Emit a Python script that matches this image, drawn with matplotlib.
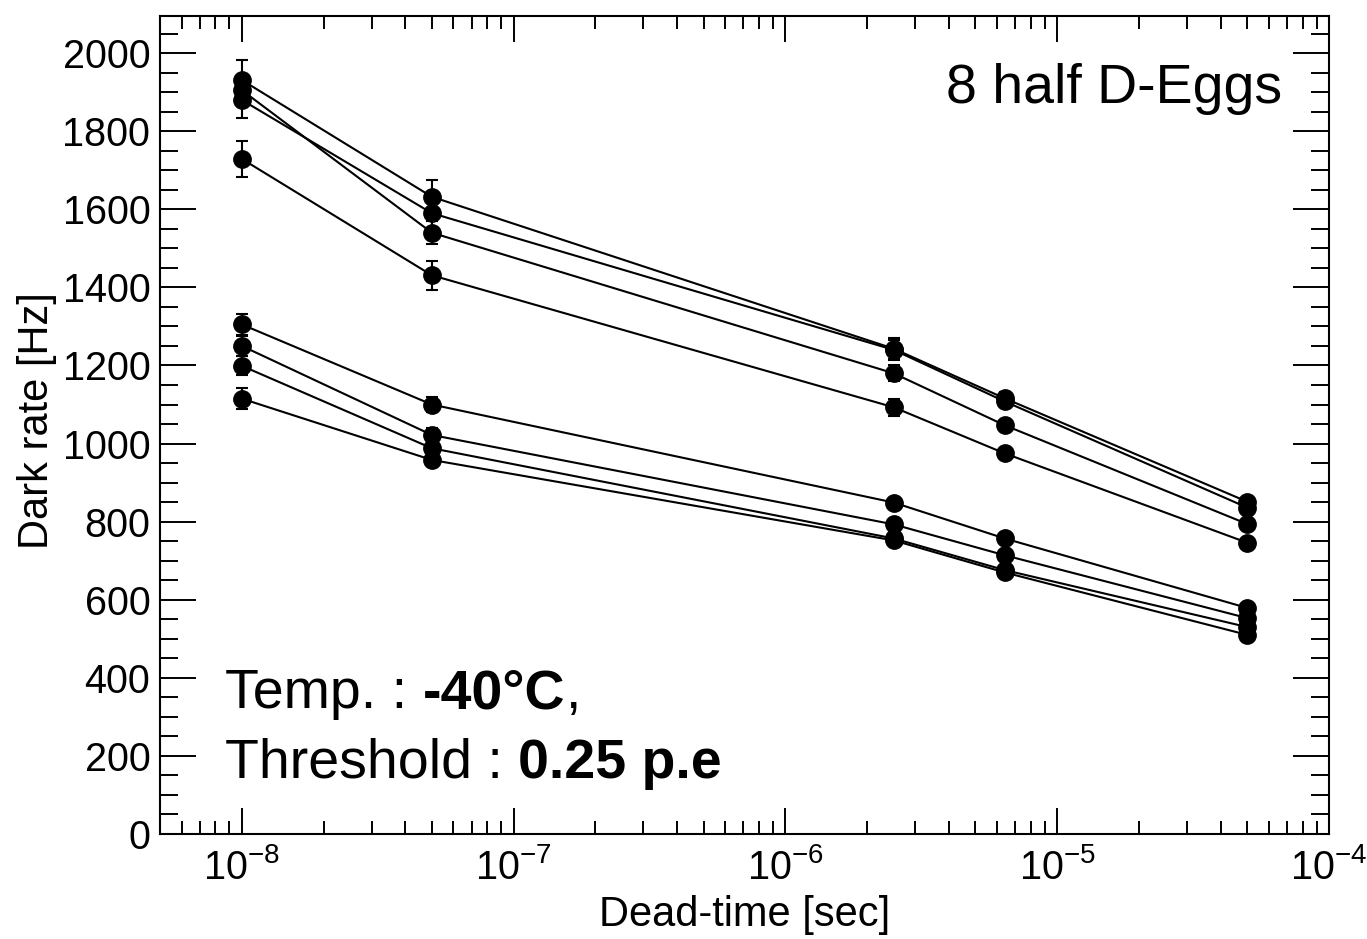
import matplotlib
matplotlib.use("Agg")
import matplotlib.pyplot as plt
from matplotlib.ticker import MultipleLocator, LogLocator, LogFormatterSciNotation, NullFormatter

plt.rcParams['font.family'] = ['Liberation Sans', 'DejaVu Sans']
plt.rcParams['mathtext.fontset'] = 'custom'
plt.rcParams['mathtext.rm'] = 'Liberation Sans'
plt.rcParams['mathtext.it'] = 'Liberation Sans:italic'
plt.rcParams['mathtext.bf'] = 'Liberation Sans:bold'

# dead-time settings [sec]
dead_time = [1e-8, 5e-8, 2.5e-6, 6.4e-6, 5e-5]

# dark rate [Hz] per half D-Egg
rate_a = [1931, 1632, 1243, 1116, 851]
rate_b = [1905, 1540, 1180, 1047, 794]
rate_c = [1880, 1590, 1240, 1108, 836]
rate_d = [1729, 1431, 1093, 975, 746]
rate_e = [1305, 1100, 849, 757, 579]
rate_f = [1250, 1022, 793, 714, 553]
rate_g = [1199, 988, 757, 676, 530]
rate_h = [1115, 958, 752, 670, 510]

err_a = [52, 43, 27, 15, 10]
err_b = [35, 30, 20, 14, 10]
err_c = [45, 38, 25, 14, 10]
err_d = [47, 37, 22, 14, 10]
err_e = [26, 18, 12, 10, 8]
err_f = [25, 18, 12, 10, 8]
err_g = [24, 17, 12, 10, 8]
err_h = [27, 15, 11, 10, 8]

rates = [rate_a, rate_b, rate_c, rate_d, rate_e, rate_f, rate_g, rate_h]
errs = [err_a, err_b, err_c, err_d, err_e, err_f, err_g, err_h]

fig = plt.figure(figsize=(13.67, 9.39), dpi=100)
ax = fig.add_axes([0.11704, 0.11182, 0.8552, 0.87114])

for r, e in zip(rates, errs):
    ax.errorbar(dead_time, r, yerr=e, fmt='-o', color='black', lw=1.5,
                ms=12.5, elinewidth=1.5, capsize=4, capthick=1.5)

ax.set_xscale('log')
ax.set_xlim(5e-9, 1e-4)
ax.set_ylim(0, 2095)

ax.xaxis.set_major_locator(LogLocator(base=10, numticks=10))
ax.xaxis.set_minor_locator(LogLocator(base=10, subs=range(2, 10), numticks=20))
ax.xaxis.set_major_formatter(LogFormatterSciNotation())
ax.xaxis.set_minor_formatter(NullFormatter())
ax.yaxis.set_major_locator(MultipleLocator(200))
ax.yaxis.set_minor_locator(MultipleLocator(50))

ax.tick_params(which='both', direction='in', top=True, right=True, width=1.4)
ax.xaxis.set_tick_params(which='major', length=19, pad=10, labelsize=28.5)
ax.xaxis.set_tick_params(which='minor', length=9.5)
ax.yaxis.set_tick_params(which='major', length=26, pad=7, labelsize=28.5)
ax.yaxis.set_tick_params(which='minor', length=13)
for sp in ax.spines.values():
    sp.set_linewidth(1.5)

ax.set_xlabel('Dead-time [sec]', fontsize=30)
ax.set_ylabel('Dark rate [Hz]', fontsize=30)
ax.xaxis.set_label_coords(0.5, -0.075)
ax.yaxis.set_label_coords(-0.088, 0.506)

ax.text(0.9598, 0.8936, '8 half D-Eggs', transform=ax.transAxes,
        ha='right', va='baseline', fontsize=40)

t1 = ax.text(0.0556, 0.154, 'Temp. :', transform=ax.transAxes,
             ha='left', va='baseline', fontsize=40)
t2 = ax.annotate('-40°C', xy=(1, 0), xycoords=t1, xytext=(11, 0),
                 textcoords='offset points', ha='left', va='bottom',
                 fontsize=40, fontweight='bold')
ax.annotate(',', xy=(1, 0), xycoords=t2, ha='left', va='bottom', fontsize=40)

t3 = ax.text(0.0556, 0.0685, 'Threshold :', transform=ax.transAxes,
             ha='left', va='baseline', fontsize=40)
ax.annotate('0.25 p.e', xy=(1, 0), xycoords=t3, xytext=(11, 0),
            textcoords='offset points', ha='left', va='bottom',
            fontsize=40, fontweight='bold')

fig.savefig('out.png', dpi=100)
